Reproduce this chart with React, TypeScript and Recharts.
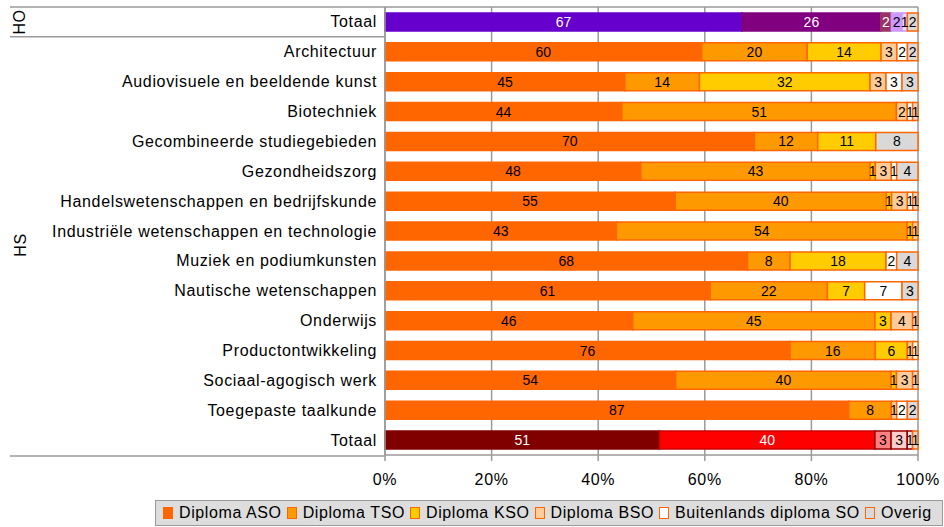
import React from 'react';
import { BarChart, Bar, XAxis, YAxis, CartesianGrid, Cell, LabelList } from 'recharts';

const categories = [
  'Totaal',
  'Architectuur',
  'Audiovisuele en beeldende kunst',
  'Biotechniek',
  'Gecombineerde studiegebieden',
  'Gezondheidszorg',
  'Handelswetenschappen en bedrijfskunde',
  'Industriële wetenschappen en technologie',
  'Muziek en podiumkunsten',
  'Nautische wetenschappen',
  'Onderwijs',
  'Productontwikkeling',
  'Sociaal-agogisch werk',
  'Toegepaste taalkunde',
  'Totaal',
];
const groups = ['HO', 'HS', 'HS', 'HS', 'HS', 'HS', 'HS', 'HS', 'HS', 'HS', 'HS', 'HS', 'HS', 'HS', 'HS'];

const aso = [67, 60, 45, 44, 70, 48, 55, 43, 68, 61, 46, 76, 54, 87, 51];
const tso = [26, 20, 14, 51, 12, 43, 40, 54, 8, 22, 45, 16, 40, 8, 40];
const kso = [2, 14, 32, 0, 11, 1, 1, 1, 18, 7, 3, 6, 1, 0, 3];
const bso = [2, 3, 3, 2, 0, 3, 3, 1, 0, 0, 4, 1, 3, 1, 3];
const buitenlands = [1, 2, 3, 1, 0, 1, 1, 0, 2, 7, 0, 1, 0, 2, 1];
const overig = [2, 2, 3, 1, 8, 4, 1, 0, 4, 3, 1, 0, 1, 2, 1];

const seriesKeys = ['aso', 'tso', 'kso', 'bso', 'buit', 'overig'];
const seriesNames = ['Diploma ASO', 'Diploma TSO', 'Diploma KSO', 'Diploma BSO', 'Buitenlands diploma SO', 'Overig'];
const seriesValues = [aso, tso, kso, bso, buitenlands, overig];

const baseFill = ['#FF6600', '#FF9900', '#FFCC00', '#FFCC99', '#FFFFFF', '#D9D9D9'];
const hoFill = ['#6600CC', '#800080', '#993366', '#CC99FF', '#E6DDFF', '#D9D9D9'];
const hoStroke = ['#6600CC', '#800080', '#993366', '#CC99FF', '#CC99FF', '#FF6600'];
const hoLabel = ['#FFFFFF', '#FFFFFF', '#FFFFFF', '#000000', '#000000', '#000000'];
const hsFill = ['#800000', '#FF0000', '#FF8080', '#FFCCCC', '#FFE5E5', '#D9D9D9'];
const hsStroke = ['#800000', '#CC0000', '#990000', '#990000', '#990000', '#FF6600'];
const hsLabel = ['#FFFFFF', '#FFFFFF', '#000000', '#000000', '#000000', '#000000'];

const data = categories.map((name, i) => {
  const row: any = { name, group: groups[i] };
  seriesKeys.forEach((k, s) => {
    row[k] = seriesValues[s][i];
  });
  return row;
});

const W = 944;
const H = 527;
const MT = 7;
const MB = 42;
const XH = 30;
const PLOT_H = H - MT - MB - XH;
const HALF_BAND = PLOT_H / categories.length / 2;
const FONT = '"Liberation Sans", Arial, sans-serif';
const LINE = '#9a9a9a';
const LS = 0.65;
const LEG_LS = 0.6;

function fillFor(row: number, s: number) {
  if (row === 0) return hoFill[s];
  if (row === categories.length - 1) return hsFill[s];
  return baseFill[s];
}
function strokeFor(row: number, s: number) {
  if (row === 0) return hoStroke[s];
  if (row === categories.length - 1) return hsStroke[s];
  return '#FF6600';
}
function labelFor(row: number, s: number) {
  if (row === 0) return hoLabel[s];
  if (row === categories.length - 1) return hsLabel[s];
  return '#000000';
}

const GroupLabel = ({ y, text }: { y: number; text: string }) => (
  <text
    x={20}
    y={y}
    transform={`rotate(-90 20 ${y})`}
    textAnchor="middle"
    dominantBaseline="central"
    fontSize={16}
    fontFamily={FONT}
    fill="#000"
    letterSpacing={LS}
  >
    {text}
  </text>
);

const CategoryTick = (props: any) => {
  const { x, y, payload, index } = props;
  const last = categories.length - 1;
  const axisX = x + 8;
  const els: any[] = [];
  els.push(
    <text key="t" x={x} y={y} textAnchor="end" dominantBaseline="central" fontSize={16} fill="#000" fontFamily={FONT} letterSpacing={LS}>
      {payload.value}
    </text>
  );
  if (index === 0) {
    els.push(<line key="top" x1={10} x2={918} y1={y - HALF_BAND} y2={y - HALF_BAND} stroke={LINE} strokeWidth={1.5} />);
    els.push(<line key="sep" x1={10} x2={axisX} y1={y + HALF_BAND} y2={y + HALF_BAND} stroke={LINE} strokeWidth={1.5} />);
    els.push(<GroupLabel key="g" y={y} text={groups[0]} />);
  }
  if (index === last) {
    els.push(<line key="bot" x1={10} x2={axisX} y1={y + HALF_BAND + 1} y2={y + HALF_BAND + 1} stroke={LINE} strokeWidth={1.5} />);
  }
  if (index === 7) {
    els.push(<GroupLabel key="g2" y={y + 14} text={groups[7]} />);
  }
  return <g>{els}</g>;
};

const makeLabel = (s: number) => (props: any) => {
  const { x, y, width, height, value, index } = props;
  if (!value) return null;
  return (
    <text
      x={x + width / 2}
      y={y + height / 2}
      textAnchor="middle"
      dominantBaseline="central"
      fontSize={14}
      fontFamily={FONT}
      fill={labelFor(index, s)}
    >
      {value}
    </text>
  );
};

const Legend = () => (
  <div
    style={{
      position: 'absolute',
      left: 155,
      top: 500,
      width: 788,
      height: 26,
      background: '#DDDDDD',
      border: '1px solid #999',
      boxSizing: 'border-box',
      display: 'flex',
      alignItems: 'center',
      paddingLeft: 7,
      fontFamily: FONT,
      fontSize: 16,
      letterSpacing: LEG_LS,
      color: '#000',
      whiteSpace: 'nowrap',
    }}
  >
    {seriesNames.map((n, s) => (
      <span key={n} style={{ display: 'inline-flex', alignItems: 'center', marginRight: 5 }}>
        <span
          style={{
            display: 'inline-block',
            width: 8,
            height: 10,
            background: baseFill[s],
            border: '1.5px solid #FF6600',
            marginRight: 6,
          }}
        />
        {n}
      </span>
    ))}
  </div>
);

export default function App() {
  return (
    <div style={{ position: 'absolute', left: 0, top: 0, width: W, height: H, background: '#fff' }}>
      <BarChart
        width={W}
        height={H}
        data={data}
        layout="vertical"
        stackOffset="expand"
        barCategoryGap="20%"
        margin={{ top: MT, right: W - 918, bottom: MB, left: 0 }}
      >
        <CartesianGrid vertical horizontal={false} stroke={LINE} strokeWidth={1.5} />
        <XAxis
          type="number"
          domain={[0, 1]}
          ticks={[0, 0.2, 0.4, 0.6, 0.8, 1]}
          tickFormatter={(v: number) => `${Math.round(v * 100)}%`}
          height={XH}
          tickSize={6}
          tickMargin={13}
          axisLine={{ stroke: LINE, strokeWidth: 1.5 }}
          tickLine={{ stroke: LINE, strokeWidth: 1.5 }}
          tick={{ fontSize: 16, fill: '#000', fontFamily: FONT, letterSpacing: LS }}
          interval={0}
        />
        <YAxis
          type="category"
          dataKey="name"
          width={385}
          interval={0}
          tickLine={false}
          axisLine={{ stroke: LINE, strokeWidth: 1.5 }}
          tick={<CategoryTick />}
        />
        {seriesKeys.map((k, s) => (
          <Bar key={k} dataKey={k} name={seriesNames[s]} stackId="a" isAnimationActive={false}>
            {data.map((_, i) => (
              <Cell key={i} fill={fillFor(i, s)} stroke={strokeFor(i, s)} strokeWidth={1.5} />
            ))}
            <LabelList dataKey={k} content={makeLabel(s)} />
          </Bar>
        ))}
      </BarChart>
      <Legend />
    </div>
  );
}
